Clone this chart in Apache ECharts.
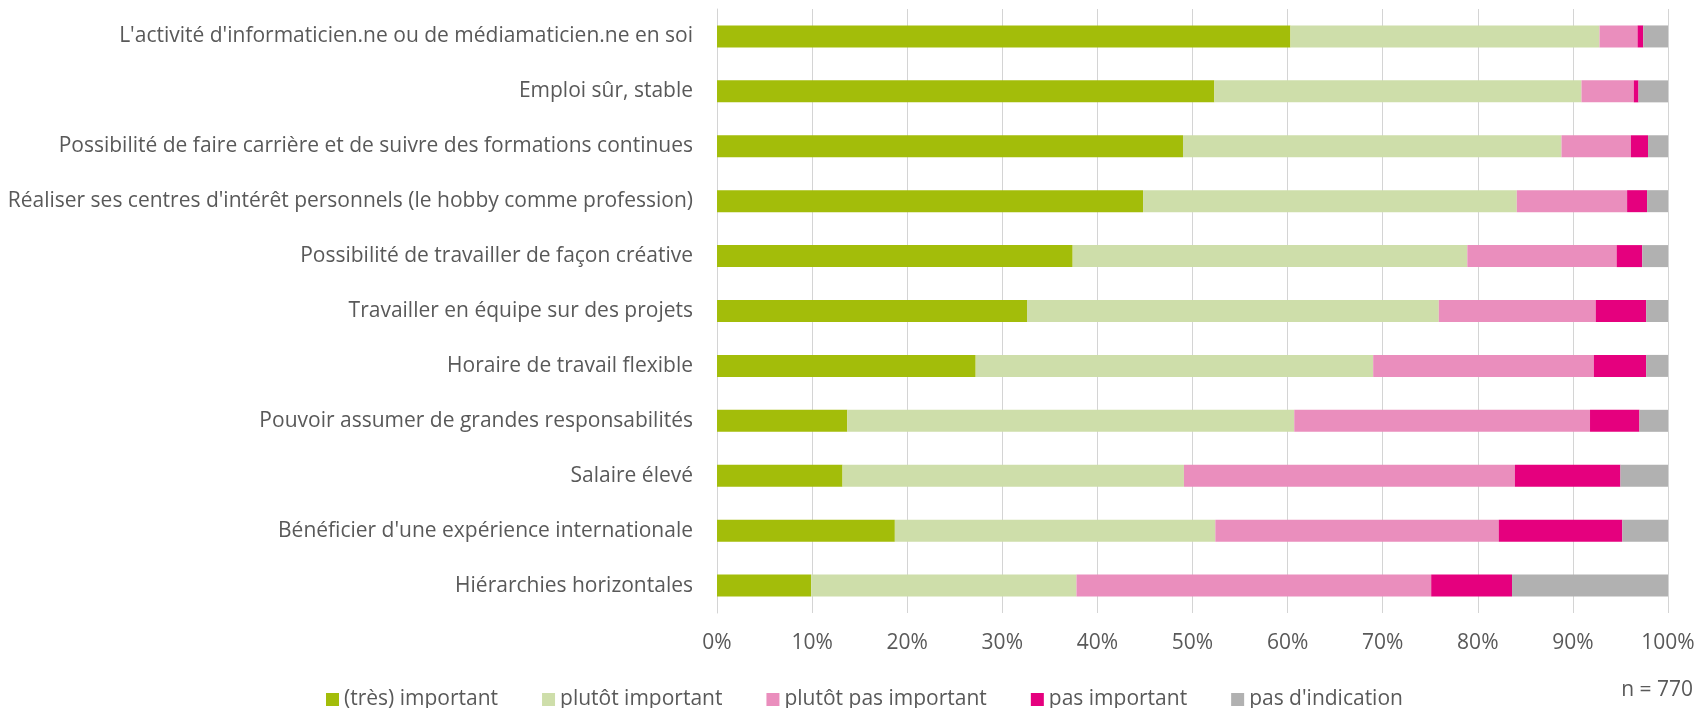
<!DOCTYPE html>
<html>
<head>
<meta charset="utf-8">
<script src="https://cdn.jsdelivr.net/npm/echarts@6/dist/echarts.min.js"></script>
<style>
  html, body { margin: 0; padding: 0; background: #fff; }
  #chart { width: 1707px; height: 708px; }
</style>
</head>
<body>
<div id="chart"></div>
<script>
  // catégories (de haut en bas)
  const categories = [
    "L'activité d'informaticien.ne ou de médiamaticien.ne en soi",
    'Emploi sûr, stable',
    'Possibilité de faire carrière et de suivre des formations continues',
    "Réaliser ses centres d'intérêt personnels (le hobby comme profession)",
    'Possibilité de travailler de façon créative',
    'Travailler en équipe sur des projets',
    'Horaire de travail flexible',
    'Pouvoir assumer de grandes responsabilités',
    'Salaire élevé',
    "Bénéficier d'une expérience internationale",
    'Hiérarchies horizontales'
  ];

  const tresImportant   = [60.3, 52.3, 49.0, 44.8, 37.4, 32.6, 27.2, 13.7, 13.2, 18.7, 9.9];
  const plutotImportant = [32.5, 38.6, 39.8, 39.3, 41.5, 43.3, 41.8, 47.0, 35.9, 33.7, 27.9];
  const plutotPas       = [4.0, 5.5, 7.3, 11.6, 15.7, 16.5, 23.2, 31.1, 34.8, 29.8, 37.3];
  const pasImportant    = [0.6, 0.5, 1.8, 2.1, 2.7, 5.3, 5.5, 5.2, 11.1, 13.0, 8.5];
  const pasIndication   = [2.6, 3.1, 2.1, 2.2, 2.7, 2.3, 2.3, 3.0, 5.0, 4.8, 16.4];

  const seriesNames = ['(très) important', 'plutôt important', 'plutôt pas important', 'pas important', "pas d'indication"];
  const seriesColors = ['#a3bd0a', '#cedeaa', '#ea8ebd', '#e5007e', '#b1b1b1'];
  const seriesData = [tresImportant, plutotImportant, plutotPas, pasImportant, pasIndication];

  const font = '"Open Sans", "Noto Sans", sans-serif';
  const textColor = '#595959';

  let myChart = echarts.init(document.getElementById('chart'));
  myChart.setOption({
    animation: false,
    grid: { left: 717, right: 39, top: 9, bottom: 95 },
    legend: {
      left: 321,
      top: 684,
      itemWidth: 13,
      itemHeight: 13,
      itemGap: 44,
      icon: 'rect',
      textStyle: { color: textColor, fontSize: 21, fontFamily: font },
      data: seriesNames
    },
    graphic: [{
      type: 'text',
      right: 14,
      top: 680,
      style: { text: 'n = 770', fill: textColor, fontSize: 21, fontFamily: font }
    }],
    xAxis: {
      type: 'value',
      min: 0,
      max: 100,
      interval: 10,
      axisLine: { show: false },
      axisTick: { show: false },
      splitLine: { lineStyle: { color: '#d4d4d4', width: 1 } },
      axisLabel: { formatter: '{value}%', color: textColor, fontSize: 21, fontFamily: font, margin: 20 }
    },
    yAxis: {
      type: 'category',
      inverse: true,
      data: categories,
      axisLine: { show: true, lineStyle: { color: '#d4d4d4' } },
      axisTick: { show: false },
      axisLabel: { color: textColor, fontSize: 21, fontFamily: font, margin: 24 }
    },
    series: seriesNames.map((name, i) => ({
      name: name,
      type: 'bar',
      stack: 'total',
      barWidth: 22,
      itemStyle: { color: seriesColors[i] },
      data: seriesData[i]
    }))
  });
</script>
</body>
</html>
